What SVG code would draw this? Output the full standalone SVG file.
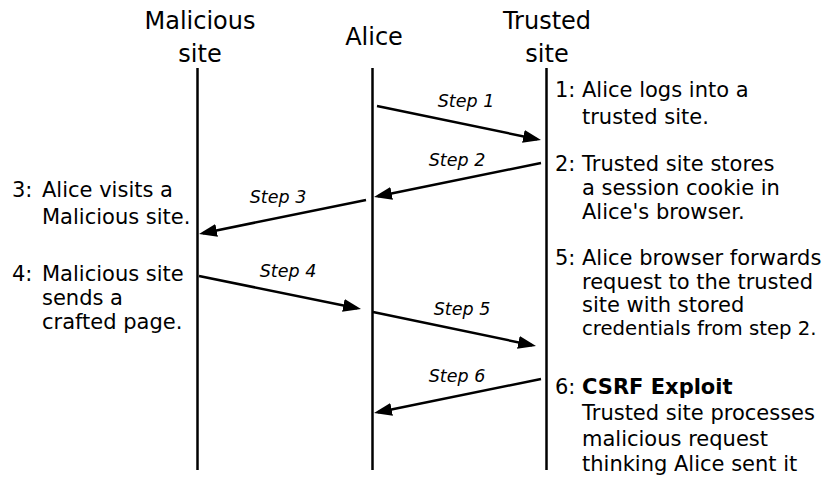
<svg xmlns="http://www.w3.org/2000/svg" width="830" height="482" viewBox="0 0 830 482">
  <style>
    .head { font-family: "DejaVu Sans", "Liberation Sans", sans-serif; font-size: 24px; fill: #000; text-anchor: middle; }
    .note { font-family: "DejaVu Sans", "Liberation Sans", sans-serif; font-size: 21px; fill: #000; }
    .note.tight { font-size: 19.7px; }
    .step { font-family: "DejaVu Sans", "Liberation Sans", sans-serif; font-size: 17.5px; font-style: italic; fill: #000; text-anchor: middle; }
    .life { stroke: #000; stroke-width: 2.5; fill: none; }
    .msg { stroke: #000; stroke-width: 2.5; fill: none; marker-end: url(#head); }
  </style>
  <defs>
    <marker id="head" markerUnits="userSpaceOnUse" markerWidth="20" markerHeight="14" refX="14" refY="6.5" orient="auto">
      <path d="M0,0 L18,6.5 L0,13 z" fill="#000"/>
    </marker>
  </defs>

  <rect width="830" height="482" fill="#fff"/>

  <!-- lifelines with their headers -->
  <g id="malicious-site">
    <text class="head" x="200" y="29">Malicious</text>
    <text class="head" x="200" y="62">site</text>
    <line class="life" x1="197.5" y1="68" x2="197.5" y2="470"/>
  </g>
  <g id="alice">
    <text class="head" x="374" y="45">Alice</text>
    <line class="life" x1="372.5" y1="68" x2="372.5" y2="470"/>
  </g>
  <g id="trusted-site">
    <text class="head" x="547" y="29">Trusted</text>
    <text class="head" x="547" y="62">site</text>
    <line class="life" x1="546.5" y1="68" x2="546.5" y2="470"/>
  </g>

  <!-- messages -->
  <g id="connectors">
    <line class="msg" x1="377" y1="106" x2="537.1" y2="139.2"/>
    <text class="step" x="466" y="107">Step 1</text>
    <line class="msg" x1="541" y1="163" x2="377.9" y2="196.2"/>
    <text class="step" x="457" y="166">Step 2</text>
    <line class="msg" x1="366" y1="200" x2="202.9" y2="233.2"/>
    <text class="step" x="278" y="203">Step 3</text>
    <line class="msg" x1="199" y1="276" x2="357.1" y2="308.2"/>
    <text class="step" x="288" y="277">Step 4</text>
    <line class="msg" x1="373" y1="312" x2="532.1" y2="345.2"/>
    <text class="step" x="462" y="315">Step 5</text>
    <line class="msg" x1="541" y1="379" x2="377.9" y2="412.2"/>
    <text class="step" x="457" y="382">Step 6</text>
  </g>

  <!-- step descriptions -->
  <g id="note-1">
    <text class="note" x="555" y="97">1:</text>
    <text class="note" x="582" y="97">Alice logs into a</text>
    <text class="note" x="582" y="124">trusted site.</text>
  </g>
  <g id="note-2">
    <text class="note" x="555" y="171">2:</text>
    <text class="note" x="582" y="171">Trusted site stores</text>
    <text class="note" x="582" y="195">a session cookie in</text>
    <text class="note" x="582" y="219">Alice's browser.</text>
  </g>
  <g id="note-3">
    <text class="note" x="12" y="197">3:</text>
    <text class="note" x="42" y="197">Alice visits a</text>
    <text class="note" x="42" y="224">Malicious site.</text>
  </g>
  <g id="note-4">
    <text class="note" x="12" y="281">4:</text>
    <text class="note" x="42" y="281">Malicious site</text>
    <text class="note" x="42" y="305">sends a</text>
    <text class="note" x="42" y="329">crafted page.</text>
  </g>
  <g id="note-5">
    <text class="note" x="555" y="265">5:</text>
    <text class="note" x="582" y="265">Alice browser forwards</text>
    <text class="note" x="582" y="289">request to the trusted</text>
    <text class="note" x="582" y="312">site with stored</text>
    <text class="note tight" x="582" y="335">credentials from step 2.</text>
  </g>
  <g id="note-6">
    <text class="note" x="555" y="394">6:</text>
    <text class="note" x="582" y="394" font-weight="bold">CSRF Exploit</text>
    <text class="note" x="582" y="420">Trusted site processes</text>
    <text class="note" x="582" y="446">malicious request</text>
    <text class="note" x="582" y="471">thinking Alice sent it</text>
  </g>
</svg>
